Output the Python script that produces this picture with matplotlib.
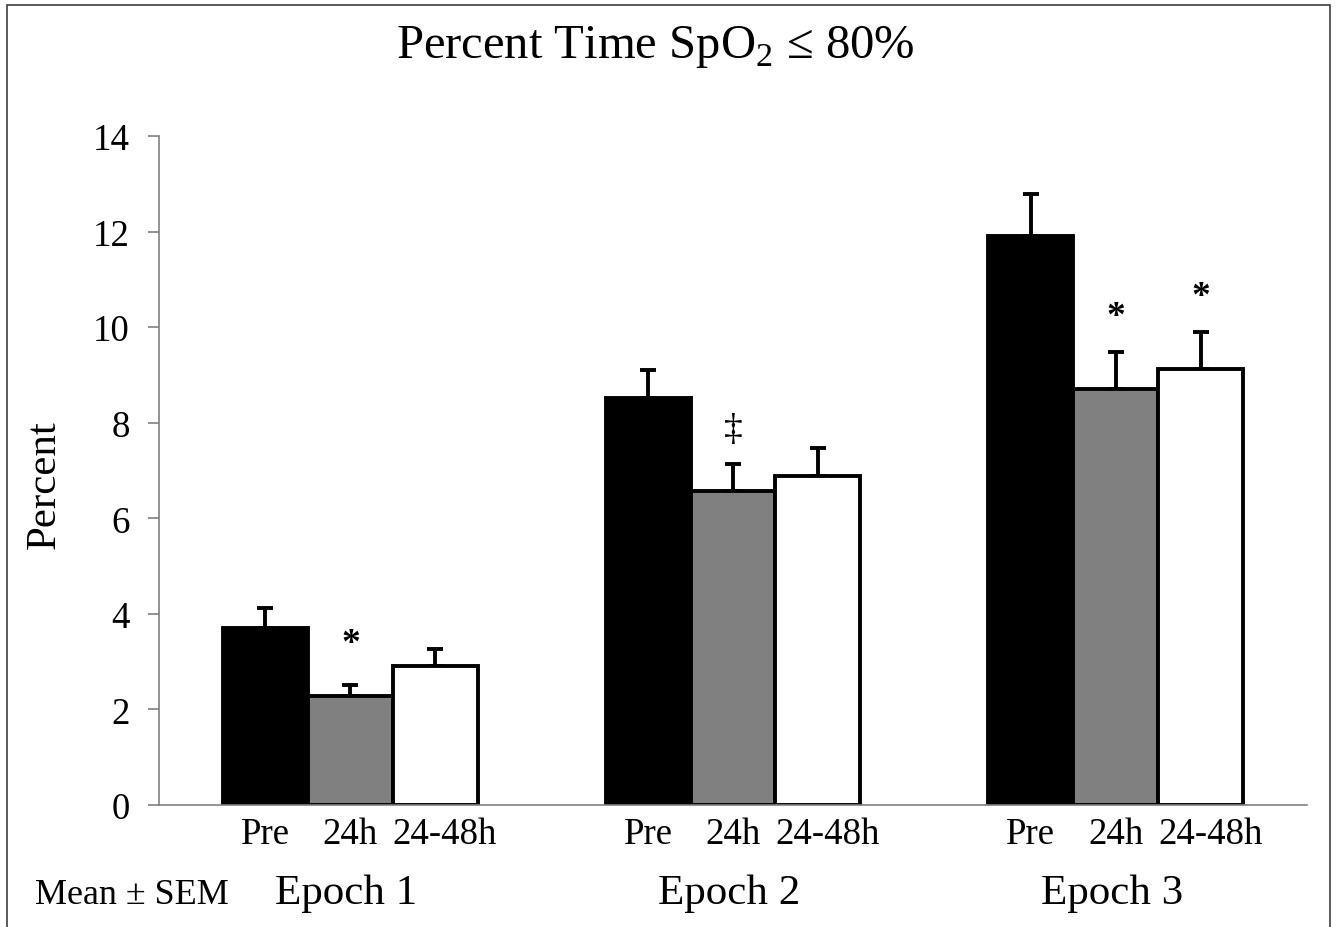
import matplotlib
matplotlib.use('Agg')
import matplotlib.pyplot as plt
from matplotlib.patches import Rectangle
import numpy as np

plt.rcParams['font.family'] = ['Liberation Serif', 'DejaVu Serif']
plt.rcParams['mathtext.fontset'] = 'custom'
plt.rcParams['mathtext.rm'] = 'Liberation Serif'

# data
epochs = ['Epoch 1', 'Epoch 2', 'Epoch 3']
groups = ['Pre', '24h', '24-48h']
pre_mean = [3.70, 8.51, 11.90]
h24_mean = [2.28, 6.57, 8.70]
h2448_mean = [2.91, 6.88, 9.12]
pre_sem = [0.42, 0.59, 0.88]
h24_sem = [0.23, 0.56, 0.78]
h2448_sem = [0.35, 0.59, 0.78]
# significance marks: (epoch index, group index, y, symbol)
marks = [(0, 1, 3.38, '*'), (1, 1, 7.85, '‡'), (2, 1, 10.22, '*'), (2, 2, 10.64, '*')]

colors = ['black', '#808080', 'white']
means = [pre_mean, h24_mean, h2448_mean]
sems = [pre_sem, h24_sem, h2448_sem]

fig = plt.figure(figsize=(13.36, 9.28), dpi=100)
ax = fig.add_axes([159/1336, 1 - 806/928, (1307-159)/1336, (806-137)/928])

x = np.arange(len(epochs))
w = 0.222
offsets = [-w, 0, w]
for i in range(3):
    ax.bar(x + offsets[i], means[i], w, color=colors[i], edgecolor='black',
           linewidth=2.8, zorder=2)
    ax.errorbar(x + offsets[i], means[i], yerr=[np.zeros(3), sems[i]], fmt='none',
                ecolor='black', elinewidth=2.8, capsize=6, capthick=2.8, zorder=1)

for e, g, y, s in marks:
    ax.text(x[e] + offsets[g], y, s, ha='center', va='center', fontsize=27,
            fontweight='bold' if s == '*' else 'normal')

ax.set_xlim(-0.5, 2.5)
ax.set_ylim(0, 14)
ax.set_yticks(range(0, 15, 2))
ax.tick_params(axis='y', direction='out', length=8, width=1.2, color='#808080',
               labelsize=26.5, pad=13)

# sub-group labels sit under the bars (the last one a little to the right)
label_shift = [0, 0, 0.025]
tick_pos = np.concatenate([x + o + s for o, s in zip(offsets, label_shift)])
tick_lab = [groups[0]] * 3 + [groups[1]] * 3 + [groups[2]] * 3
ax.set_xticks(tick_pos)
ax.set_xticklabels(tick_lab)
ax.tick_params(axis='x', length=0, labelsize=26.5, pad=8)

for i, ep in enumerate(epochs):
    ax.text(x[i] - 0.01, -0.131, ep, transform=ax.get_xaxis_transform(), ha='center',
            va='center', fontsize=31)

for sp in ['top', 'right']:
    ax.spines[sp].set_visible(False)
for sp in ['left', 'bottom']:
    ax.spines[sp].set_color('#808080')
    ax.spines[sp].set_linewidth(1.2)

ax.set_ylabel('Percent', fontsize=31)
ax.yaxis.set_label_coords(-0.083, 0.48)

fig.text(655/1336, 1 - 47/928, 'Percent Time SpO$_2$ ≤ 80%', ha='center', va='center',
         fontsize=35)
fig.text(35/1336, 1 - 896/928, 'Mean ± SEM', ha='left', va='center', fontsize=26)

fig.patches.append(Rectangle((7/1336, -0.01), (1330-7)/1336, 1.01 - 6/928,
                             transform=fig.transFigure, fill=False,
                             edgecolor='#404040', linewidth=1.2))

fig.savefig('out.png', dpi=100)
